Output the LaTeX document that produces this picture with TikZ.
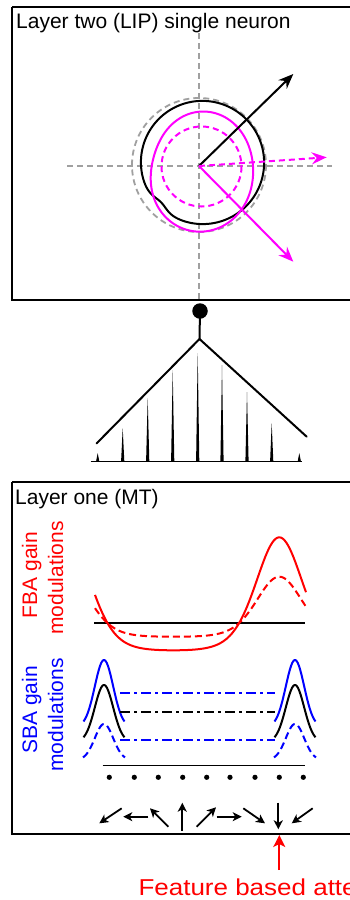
\documentclass[tikz,border=0pt]{standalone}
\usepackage{fontspec}
\setmainfont{Liberation Sans}
\usetikzlibrary{arrows.meta}
\definecolor{mag}{RGB}{255,0,255}
\definecolor{gry}{RGB}{160,160,160}
\definecolor{rd}{RGB}{255,0,0}
\definecolor{bl}{RGB}{0,0,255}
\begin{document}
\begin{tikzpicture}[x=1pt,y=-1pt,
  lab/.style={font=\fontsize{21}{25}\selectfont, inner sep=0pt},
  frame/.style={line width=2.5pt},
  curve/.style={line width=2pt},
  gdash/.style={gry, line width=1.8pt, dash pattern=on 6pt off 4pt},
  bigarr/.style={line width=2pt, -{Stealth[length=15pt,width=12pt,inset=5pt]}},
  smallarr/.style={line width=1.8pt, -{Stealth[length=9pt,width=9pt,inset=2.5pt]}},
  dashdot/.style={line width=1.8pt, dash pattern=on 10pt off 4pt on 3pt off 4pt},
  declare function={
    rb(\t)=61.5+5*cos(\t-45)-4*exp(-min(((\t-224)/13)^2,15));
    rm(\t)=55.3+3.35*cos(\t)-5.7*sin(\t)-4.67*cos(2*\t)+1*sin(2*\t);
    fs(\x)=-28.4+114.4*exp(2.2*(cos(1.69811*(\x-279.3))-1));
    fd(\x)=-14+60.6*exp(2.3*(cos(1.69811*(\x-279.3))-1));
    gs(\x,\c,\b,\a)=\b-\a*exp(-((\x-\c)/13)^2);
  }]
\useasboundingbox (0,0) rectangle (349,900);
\fill[white] (0,0) rectangle (349,900);

% ---------- Layer two box ----------
\draw[frame] (12,7) -- (360,7) (12,7) -- (12,300) -- (360,300);
\node[lab, anchor=base west] (t1) at (16,28) {Layer two (LIP) single neuron};

\coordinate (o) at (199,166);
\draw[gdash] (199,33) -- (199,299);
\draw[gdash] (67,166) -- (332,166);
\draw[gdash] (199,165) circle (67);

\draw[curve] plot[domain=0:360,samples=181,smooth] ({199+rb(\x)*cos(\x)},{166-rb(\x)*sin(\x)});
\draw[curve,mag] plot[domain=0:360,samples=181,smooth] ({199+rm(\x)*cos(\x)},{166-rm(\x)*sin(\x)});
\draw[curve,mag,dash pattern=on 6pt off 4pt] (201.5,166.5) circle (40);

\coordinate (ab) at (293.3,74);
\coordinate (amd) at (326.7,157.3);
\coordinate (ams) at (293.3,261.7);
\draw[bigarr] (o) -- (ab);
\draw[bigarr,mag,dash pattern=on 6pt off 4pt] (o) -- (amd);
\draw[bigarr,mag] (o) -- (ams);

% ---------- tree ----------
\node[circle, fill=black, minimum size=15.5pt, inner sep=0pt] (ball) at (200,311) {};
\coordinate (apex) at (199.5,339);
\coordinate (tl) at (96.7,443.3);
\coordinate (tr) at (306.7,436.7);
\draw[line width=2pt] (ball.center) -- (apex);
\draw[line width=2pt, line cap=round, line join=miter] (tl) -- (apex) -- (tr);
\draw[line width=1.3pt] (90.7,461.3) -- (301.7,461.3);
\foreach \sx/\sy in {97.7/453,122.7/428,147.7/398,172.7/370,197.7/353,222/365,247/392,271.7/423,299.3/453}{
  \fill (\sx-1.6,461.3) -- (\sx,\sy) -- (\sx+1.6,461.3) -- cycle;
}

% ---------- Layer one box ----------
\draw[frame] (12,482) -- (360,482) (12,482) -- (12,834) -- (360,834);
\node[lab, anchor=base west] (t2) at (15,504) {Layer one (MT)};

\node[lab, rd, rotate=90, anchor=base] (fba1) at (37,575) {FBA gain};
\node[lab, rd, rotate=90, anchor=base] (fba2) at (63,578) {modulations};
\node[lab, bl, rotate=90, anchor=base] (sba1) at (37,710) {SBA gain};
\node[lab, bl, rotate=90, anchor=base] (sba2) at (63,715) {modulations};

% FBA
\draw[line width=1.8pt] (94,623.3) -- (305,623.3);
\draw[curve,rd] plot[domain=95:306,samples=120,smooth] (\x,{623.3-fs(\x)});
\draw[curve,rd,dash pattern=on 7pt off 4pt] plot[domain=95:306,samples=120,smooth] (\x,{623.3-fd(\x)});

% SBA
\foreach \c in {104,295}{
  \draw[curve,bl] plot[domain=\c-20.5:\c+20.5,samples=50,smooth] (\x,{gs(\x,\c,727,67)});
  \draw[curve] plot[domain=\c-20.5:\c+20.5,samples=50,smooth] (\x,{gs(\x,\c,742,57)});
  \draw[curve,bl,dash pattern=on 7pt off 4pt] plot[domain=\c-21:\c+21,samples=50,smooth] (\x,{gs(\x,\c,760,36)});
}
\draw[dashdot,bl] (120,692.7) -- (275,692.7);
\draw[dashdot] (120,711.7) -- (275,711.7);
\draw[dashdot,bl] (120,740) -- (275,740);

\draw[line width=1.8pt] (102.7,765.5) -- (305,765.5);
\foreach \dx in {109.3,134.3,158.3,182.7,206.7,230,255,279.3,303.3}{
  \fill (\dx,777.3) circle (2.6);
}

% direction arrows
\draw[smallarr] (121.7,808.3) -- (99.3,823.3);
\draw[smallarr] (148.3,816.7) -- (123.3,816.7);
\draw[smallarr] (168.3,826.7) -- (150,808.3);
\draw[smallarr] (182.3,830.7) -- (182.3,802.7);
\draw[smallarr] (196.7,826.7) -- (216,807.3);
\draw[smallarr] (216.7,816.7) -- (241.7,816.7);
\draw[smallarr] (243.3,808.3) -- (265,823.3);
\draw[smallarr] (278.3,802.7) -- (278.3,829.3);
\draw[smallarr] (312.7,808.3) -- (291.7,823.3);

% feature based attention
\node[lab, rd, anchor=base west, font=\fontsize{23}{28}\selectfont, xscale=1.13] (fa) at (138.3,895) {Feature based attention};
\coordinate (fatip) at (279.3,835);
\draw[rd, line width=2pt, -{Stealth[length=12pt,width=12pt,inset=3pt]}] (279.3,870) -- (fatip);
\end{tikzpicture}
\end{document}
